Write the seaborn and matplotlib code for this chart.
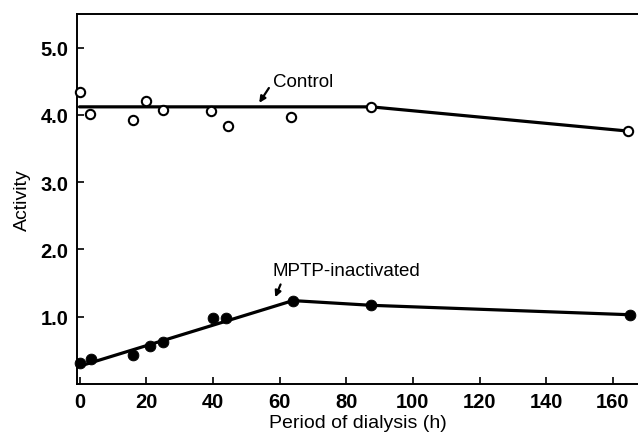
import pandas as pd
import seaborn as sns
import matplotlib.pyplot as plt

# measured points
ctrl_x = [0, 3, 16, 20, 25, 39.5, 44.5, 63.5, 87.5, 164.5]
ctrl_y = [4.34, 4.02, 3.92, 4.20, 4.07, 4.06, 3.84, 3.97, 4.12, 3.76]
mptp_x = [0, 3.5, 16, 21, 25, 40, 44, 64, 87.5, 165]
mptp_y = [0.31, 0.37, 0.43, 0.57, 0.63, 0.98, 0.98, 1.24, 1.17, 1.03]

# fitted lines
ctrl_line_x = [0, 87.5, 164.5]
ctrl_line_y = [4.12, 4.12, 3.76]
mptp_line_x = [1, 64, 87.5, 165]
mptp_line_y = [0.28, 1.24, 1.17, 1.03]

x_ticks = [0, 20, 40, 60, 80, 100, 120, 140, 160]
y_ticks = [1.0, 2.0, 3.0, 4.0, 5.0]

sns.set_style("ticks")
plt.rcParams['font.family'] = ['Liberation Sans', 'DejaVu Sans']
plt.rcParams.update({'text.color': 'black', 'axes.labelcolor': 'black',
                     'xtick.color': 'black', 'ytick.color': 'black'})

fig = plt.figure(figsize=(6.38, 4.35), dpi=100)
ax = fig.add_axes([0.1207, 0.1149, 0.8793, 0.8506])

ctrl = pd.DataFrame({'x': ctrl_x, 'y': ctrl_y})
mptp = pd.DataFrame({'x': mptp_x, 'y': mptp_y})

sns.lineplot(x=ctrl_line_x, y=ctrl_line_y, color='black', lw=2.3, ax=ax)
sns.lineplot(x=mptp_line_x, y=mptp_line_y, color='black', lw=2.3, ax=ax)
sns.scatterplot(data=ctrl, x='x', y='y', s=45, facecolor='white',
                edgecolor='black', linewidth=1.5, zorder=3, clip_on=False, ax=ax)
sns.scatterplot(data=mptp, x='x', y='y', s=60, color='black',
                edgecolor='black', zorder=3, clip_on=False, ax=ax)

ax.set_xlim(-0.75, 167.5)
ax.set_ylim(0, 5.5)
ax.set_xticks(x_ticks)
ax.set_yticks(y_ticks)
ax.set_yticklabels(['%.1f' % v for v in y_ticks])
ax.tick_params(direction='in', length=5, width=1.2, labelsize=14.5, pad=6,
               colors='black')
for lbl in ax.get_xticklabels() + ax.get_yticklabels():
    lbl.set_fontweight('bold')

ax.spines['right'].set_visible(False)
for s in ['left', 'bottom', 'top']:
    ax.spines[s].set_linewidth(1.4)
    ax.spines[s].set_color('black')

ax.set_xlabel('Period of dialysis (h)', fontsize=14, labelpad=2)
ax.set_ylabel('Activity', fontsize=14, labelpad=7)

# labels with short arrows
ax.text(58, 4.49, 'Control', fontsize=13.5, va='center', ha='left')
ax.annotate('', xy=(53.9, 4.18), xytext=(56.8, 4.40),
            arrowprops=dict(arrowstyle='-|>', color='black', lw=1.6,
                            shrinkA=0, shrinkB=0, mutation_scale=9))
ax.text(58, 1.69, 'MPTP-inactivated', fontsize=13.5, va='center', ha='left')
ax.annotate('', xy=(58.7, 1.29), xytext=(60.3, 1.48),
            arrowprops=dict(arrowstyle='-|>', color='black', lw=1.6,
                            shrinkA=0, shrinkB=0, mutation_scale=9))

plt.savefig('out.png', dpi=100)
